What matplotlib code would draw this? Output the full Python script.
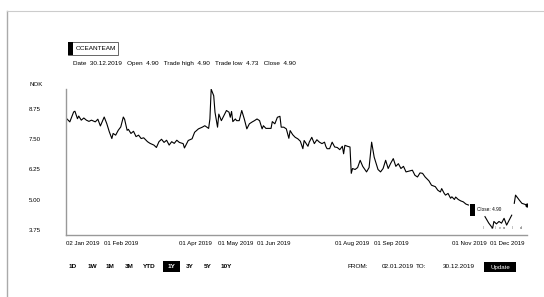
import matplotlib
matplotlib.use('Agg')
import numpy as np
import pandas as pd
import matplotlib.pyplot as plt
import matplotlib.dates as mdates
from matplotlib.patches import Rectangle
from matplotlib.lines import Line2D

plt.rcParams['font.family'] = ['Liberation Sans', 'DejaVu Sans']

# ---- data (days after 02 Jan 2019, price NOK) ----
start = pd.Timestamp('2019-01-02')
days = [0, 3, 6, 7, 9, 10, 12, 14, 16, 18, 20, 23, 25, 27, 30, 32, 34, 36, 37, 39,
        41, 43, 45, 46, 48, 49, 51, 53, 55, 57, 59, 61, 64, 66, 69, 71, 73, 75, 77, 79,
        81, 83, 85, 87, 89, 92, 93, 96, 99, 101, 104, 107, 109, 112, 113, 114, 116, 117, 119, 120,
        122, 124, 126, 128, 129, 130, 131, 133, 134, 136, 138, 140, 142, 144, 146, 148, 150, 152, 154, 155,
        157, 159, 161, 162, 164, 166, 168, 169, 171, 173, 175, 176, 178, 180, 182, 184, 186, 187, 190, 191,
        193, 195, 197, 199, 201, 203, 204, 205, 207, 209, 211, 213, 215, 217, 218, 219, 221, 223, 224, 225,
        227, 229, 231, 233, 236, 238, 240, 242, 245, 247, 249, 251, 253, 255, 257, 259, 261, 263, 265, 267,
        270, 272, 274, 276, 278, 280, 282, 285, 287, 290, 292, 294, 295, 297, 298, 300, 302, 303, 305, 306,
        308, 310, 312, 314, 316, 317, 329, 332, 335, 336, 338, 340, 342, 344, 346, 348, 350, 351, 352, 353,
        356, 358, 362]
prices = [8.38, 8.22, 8.63, 8.66, 8.35, 8.46, 8.29, 8.38, 8.29, 8.24, 8.29, 8.22, 8.33, 8.05, 8.42, 8.15, 7.81, 7.53, 7.74, 7.67,
          7.87, 8.01, 8.42, 8.33, 7.87, 7.91, 7.74, 7.83, 7.61, 7.67, 7.53, 7.56, 7.40, 7.33, 7.26, 7.16, 7.40, 7.50, 7.37, 7.46,
          7.26, 7.40, 7.33, 7.46, 7.37, 7.32, 7.14, 7.45, 7.52, 7.79, 7.93, 8.00, 8.06, 7.95, 8.34, 9.57, 9.30, 8.62, 8.00, 8.54,
          8.27, 8.48, 8.69, 8.62, 8.41, 8.65, 8.23, 8.34, 8.27, 8.27, 8.69, 8.34, 7.93, 8.14, 8.21, 8.27, 8.34, 8.27, 7.93, 8.06,
          7.95, 7.95, 7.95, 8.23, 8.14, 8.41, 8.45, 8.00, 8.00, 7.93, 7.54, 7.86, 7.69, 7.58, 7.52, 7.42, 7.11, 7.45, 7.21, 7.38,
          7.58, 7.32, 7.48, 7.38, 7.32, 7.38, 7.21, 7.11, 7.11, 7.38, 7.18, 7.16, 7.07, 7.21, 6.90, 7.25, 7.21, 7.18, 6.09, 6.29,
          6.25, 6.33, 6.63, 6.38, 6.15, 6.33, 7.38, 6.76, 6.25, 6.15, 6.29, 6.63, 6.29, 6.51, 6.70, 6.38, 6.49, 6.29, 6.38, 6.15,
          6.19, 6.22, 6.01, 5.94, 6.11, 6.09, 5.94, 5.78, 5.60, 5.54, 5.39, 5.32, 5.46, 5.26, 5.19, 5.26, 5.06, 5.12, 5.01, 5.11,
          5.01, 4.95, 4.91, 4.82, 4.78, np.nan, 4.30, 4.03, 3.82, 4.10, 4.00, 4.10, 4.03, 4.23, 3.95, 4.16, 4.36, np.nan, 4.85, 5.19,
          4.98, 4.85, 4.78]

y_ticks = [3.75, 5.00, 6.25, 7.50, 8.75]
x_tick_dates = ['2019-01-02', '2019-02-01', '2019-04-01', '2019-05-01', '2019-06-01',
                '2019-08-01', '2019-09-01', '2019-11-01', '2019-12-01']
periods = ['1D', '1W', '1M', '3M', 'YTD', '1Y', '3Y', '5Y', '10Y']
active_period = '1Y'
info = 'Date  30.12.2019   Open  4.90   Trade high  4.90   Trade low  4.73   Close  4.90'
close_label = 'Close: 4.90'
marker_day, marker_lo, marker_hi = 317, 4.33, 4.82

W, H = 544, 297
fig = plt.figure(figsize=(W / 100, H / 100), dpi=100)


def fx(x):
    return x / W


def fy(y):
    return 1 - y / H


# outer frame (top + left edge)
fig.add_artist(Line2D([fx(7), fx(7)], [fy(11), 0], transform=fig.transFigure, color='#aaaaaa', lw=1))
fig.add_artist(Line2D([fx(7), 1], [fy(11), fy(11)], transform=fig.transFigure, color='#cccccc', lw=0.8))

# ticker badge
fig.add_artist(Rectangle((fx(68), fy(55)), (118 - 68) / W, 13 / H, transform=fig.transFigure,
                         facecolor='white', edgecolor='#666666', lw=0.7))
fig.add_artist(Rectangle((fx(68), fy(55)), 5 / W, 13 / H, transform=fig.transFigure,
                         facecolor='black', edgecolor='none'))
fig.text(fx(76), fy(48.5), 'OCEANTEAM', fontsize=4.6, va='center', ha='left')
fig.text(fx(73), fy(63), info, fontsize=4.6, va='center', ha='left')
fig.text(fx(30), fy(85), 'NOK', fontsize=4.4, va='center', ha='left')

# ---- price chart ----
ax = fig.add_axes([fx(66), fy(235), (527 - 66) / W, (235 - 88.5) / H])
dates = start + pd.to_timedelta(days, unit='D')
ax.plot(dates, prices, color='black', lw=0.8)
ax.plot(dates[-1:], prices[-1:], 'o', color='black', ms=2)

ax.set_xlim(start, start + pd.Timedelta(days=362))
ax.set_ylim(3.54, 9.6)
for s in ['top', 'right']:
    ax.spines[s].set_visible(False)
for s in ['left', 'bottom']:
    ax.spines[s].set_color('#999999')
    ax.spines[s].set_linewidth(1.0)

ax.set_yticks(y_ticks)
ax.set_yticklabels([f'{v:.2f}' for v in y_ticks], ha='left')
ax.tick_params(axis='y', length=0, labelsize=4.4, pad=26.6)
ax.set_xticks(pd.to_datetime(x_tick_dates))
ax.xaxis.set_major_formatter(mdates.DateFormatter('%d %b %Y'))
for lbl in ax.get_xticklabels():
    lbl.set_ha('left')
ax.tick_params(axis='x', length=0, labelsize=4.4, pad=4)

# hover marker + label left in the chart
m0 = start + pd.Timedelta(days=marker_day)
ax.add_patch(Rectangle((mdates.date2num(m0), marker_lo), 4.5, marker_hi - marker_lo,
                       facecolor='black', edgecolor='none'))
ax.text(start + pd.Timedelta(days=marker_day + 5.5), 4.60, close_label, fontsize=3.4, va='center', ha='left')
for d, ch in zip([328, 334, 337, 341, 344, 351, 357], ['/', '\\', '/', 'v', 'ɑ', '\\', 'd']):
    ax.text(start + pd.Timedelta(days=d), 3.84, ch, fontsize=2.6, va='center', ha='center', color='#333333')

# ---- period buttons ----
btn_x = [73, 92, 110, 129, 149, 171.5, 190, 208, 226]
for p, x in zip(periods, btn_x):
    if p == active_period:
        fig.add_artist(Rectangle((fx(163), fy(272)), 17 / W, 11 / H, transform=fig.transFigure,
                                 facecolor='black', edgecolor='none'))
        fig.text(fx(x), fy(266.5), p, fontsize=4.6, fontweight='bold', color='white', ha='center', va='center')
    else:
        fig.text(fx(x), fy(266.5), p, fontsize=4.6, fontweight='bold', ha='center', va='center')

fig.text(fx(347), fy(266.5), 'FROM:', fontsize=4.6, ha='left', va='center')
fig.text(fx(382), fy(266.5), '02.01.2019', fontsize=4.6, ha='left', va='center')
fig.text(fx(416), fy(266.5), 'TO:', fontsize=4.6, ha='left', va='center')
fig.text(fx(443), fy(266.5), '30.12.2019', fontsize=4.6, ha='left', va='center')
fig.add_artist(Rectangle((fx(484), fy(272)), 32 / W, 10 / H, transform=fig.transFigure,
                         facecolor='black', edgecolor='none'))
fig.text(fx(500), fy(267), 'Update', fontsize=4.4, color='white', ha='center', va='center')

fig.savefig('out.png', dpi=100)
